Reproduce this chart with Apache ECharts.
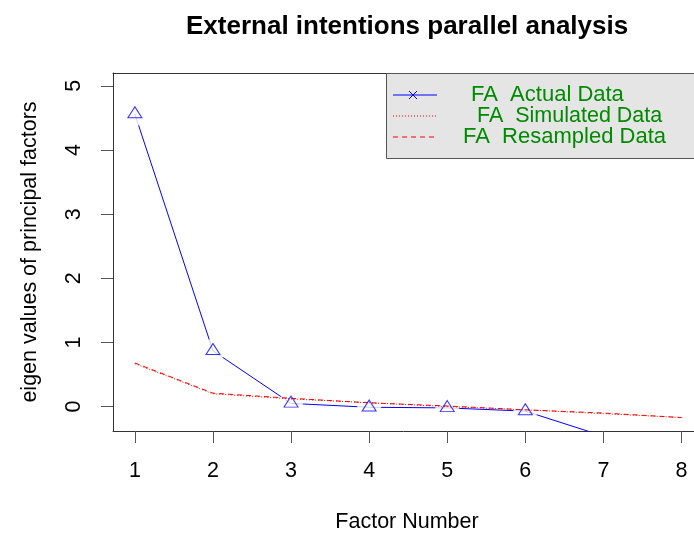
<!DOCTYPE html>
<html>
<head>
<meta charset="utf-8">
<title>External intentions parallel analysis</title>
<script src="https://cdn.jsdelivr.net/npm/echarts@6/dist/echarts.min.js"></script>
<style>
	html, body { margin: 0; padding: 0; background: #fff; }
	#chart { width: 694px; height: 538px; }
</style>
</head>
<body>
<div id="chart"></div>
<script>
// factor numbers and eigen values
var factors = [1, 2, 3, 4, 5, 6, 7, 8];
var actualData = [4.56, 0.87, 0.05, -0.01, -0.02, -0.07, -0.46, -0.50];
var simulatedData = [0.67, 0.20, 0.12, 0.06, 0.00, -0.05, -0.11, -0.17];
var resampledData = [0.68, 0.21, 0.13, 0.06, 0.01, -0.05, -0.10, -0.17];
var xTicks = [1, 2, 3, 4, 5, 6, 7, 8];
var yTicks = [0, 1, 2, 3, 4, 5];
var legendNames = ['FA  Actual Data', 'FA  Simulated Data', 'FA  Resampled Data'];

var FONT = '"Liberation Sans", Arial, sans-serif';
var X_MIN = 0.72, X_MAX = 8.16; // plot is cut at the right edge

function pairs(ys) {
	return factors.map(function(x, i) {
		return [x, ys[i]];
	});
}

/**
 * R style legend box, top right
 */
function legendGraphic() {
	var g = [];
	g.push({
		type: 'rect',
		shape: { x: 386.5, y: 73.5, width: 330, height: 85 },
		style: { fill: '#e5e5e5', stroke: '#555', lineWidth: 1 },
		z: 10
	});
	var rows = [95, 116, 137];
	var textX = [471, 477, 463];
	// blue line with a cross
	g.push({ type: 'line', shape: { x1: 393, y1: rows[0], x2: 437, y2: rows[0] },
		style: { stroke: '#0000ff', lineWidth: 1 }, z: 11 });
	g.push({ type: 'line', shape: { x1: 409, y1: rows[0] - 4, x2: 417, y2: rows[0] + 4 },
		style: { stroke: '#0000ff', lineWidth: 1 }, z: 11 });
	g.push({ type: 'line', shape: { x1: 409, y1: rows[0] + 4, x2: 417, y2: rows[0] - 4 },
		style: { stroke: '#0000ff', lineWidth: 1 }, z: 11 });
	// dotted red
	g.push({ type: 'line', shape: { x1: 393, y1: rows[1], x2: 437, y2: rows[1] },
		style: { stroke: '#ff0000', lineWidth: 1, lineDash: [1, 2] }, z: 11 });
	// dashed red
	g.push({ type: 'line', shape: { x1: 393, y1: rows[2], x2: 437, y2: rows[2] },
		style: { stroke: '#ff0000', lineWidth: 1, lineDash: [5, 4] }, z: 11 });
	for (var i = 0; i < legendNames.length; i++) {
		g.push({
			type: 'text',
			x: textX[i],
			y: rows[i],
			style: {
				text: legendNames[i],
				fill: '#008a00',
				font: (i == 1 ? '21.5px ' : '22px ') + FONT,
				textVerticalAlign: 'middle'
			},
			z: 11
		});
	}
	return g;
}

var chart = echarts.init(document.getElementById('chart'), null, { renderer: 'canvas' });

var option = {
	backgroundColor: '#fff',
	animation: false,
	title: {
		text: 'External intentions parallel analysis',
		left: 181,
		top: 9,
		textStyle: { fontFamily: FONT, fontSize: 26, fontWeight: 'bold', color: '#000' }
	},
	grid: {
		left: 113,
		top: 73,
		right: 0,
		bottom: 104,
		show: false,
		containLabel: false
	},
	xAxis: [{
		type: 'value',
		position: 'bottom',
		min: X_MIN,
		max: X_MAX,
		name: 'Factor Number',
		nameLocation: 'middle',
		nameGap: 80,
		nameTextStyle: { fontFamily: FONT, fontSize: 21.5, color: '#000', padding: [0, 0, 0, 7] },
		axisLine: { show: true, onZero: false, lineStyle: { color: '#333', width: 1 } },
		splitLine: { show: false },
		axisTick: {
			show: true,
			length: 12,
			customValues: xTicks,
			lineStyle: { color: '#555', width: 1 }
		},
		axisLabel: {
			customValues: xTicks,
			margin: 29,
			fontFamily: FONT,
			fontSize: 21.5,
			color: '#000'
		}
	}, {
		// top edge of the box
		type: 'value',
		position: 'top',
		min: X_MIN,
		max: X_MAX,
		axisLine: { show: true, onZero: false, lineStyle: { color: '#333', width: 1 } },
		axisTick: { show: false },
		axisLabel: { show: false },
		splitLine: { show: false }
	}],
	yAxis: {
		type: 'value',
		min: -0.38,
		max: 5.2,
		name: 'eigen values of principal factors',
		nameLocation: 'middle',
		nameRotate: 90,
		nameGap: 72,
		nameTextStyle: { fontFamily: FONT, fontSize: 21.5, color: '#000' },
		axisLine: { show: true, onZero: false, lineStyle: { color: '#333', width: 1 } },
		splitLine: { show: false },
		axisTick: {
			show: true,
			length: 12,
			customValues: yTicks,
			lineStyle: { color: '#555', width: 1 }
		},
		axisLabel: {
			customValues: yTicks,
			rotate: 90,
			margin: 28,
			fontFamily: FONT,
			fontSize: 21.5,
			color: '#000'
		}
	},
	graphic: legendGraphic(),
	series: [{
		name: 'FA  Actual Data',
		type: 'line',
		data: pairs(actualData),
		showSymbol: false,
		lineStyle: { color: '#0000ff', width: 1 },
		z: 2
	}, {
		// white gaps around the points, like type = "b"
		name: 'gap',
		type: 'scatter',
		data: pairs(actualData),
		symbol: 'circle',
		symbolSize: 24,
		itemStyle: { color: '#fff' },
		silent: true,
		z: 3
	}, {
		name: 'FA  Simulated Data',
		type: 'line',
		data: pairs(simulatedData),
		showSymbol: false,
		lineStyle: { color: '#ff0000', width: 1, type: [1, 2] },
		z: 4
	}, {
		name: 'FA  Resampled Data',
		type: 'line',
		data: pairs(resampledData),
		showSymbol: false,
		lineStyle: { color: '#ff0000', width: 1, type: [5, 4] },
		z: 4
	}, {
		name: 'points',
		type: 'scatter',
		data: pairs(actualData),
		symbol: 'triangle',
		symbolSize: [14, 11],
		symbolOffset: [0, -1.8],
		itemStyle: { color: 'rgba(0,0,0,0)', borderColor: '#0000ff', borderWidth: 1 },
		z: 5
	}]
};

chart.setOption(option);
</script>
</body>
</html>
